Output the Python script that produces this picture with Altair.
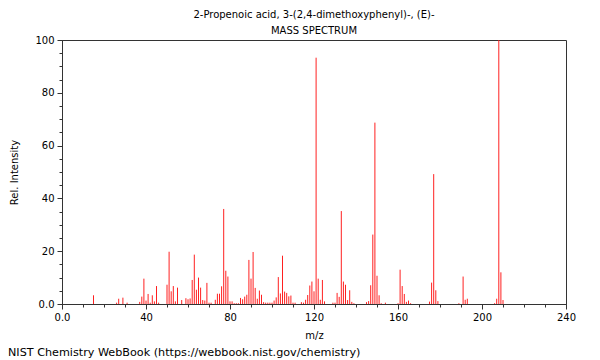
import altair as alt
import pandas as pd

mz = [15, 26, 27, 29, 31, 37, 38, 39, 40, 41, 42, 43, 44, 45, 46, 50, 51, 52, 53, 54, 55, 57,
      59, 60, 61, 62, 63, 64, 65, 66, 67, 68, 69, 70, 71, 73, 74, 75, 76, 77, 78, 79, 80, 81,
      82, 83, 84, 85, 86, 87, 88, 89, 90, 91, 92, 93, 94, 95, 96, 97, 98, 99, 100, 101, 102,
      103, 104, 105, 106, 107, 108, 109, 110, 111, 114, 115, 116, 117, 118, 119, 120, 121, 122,
      123, 124, 125, 129, 130, 131, 132, 133, 134, 135, 136, 137, 138, 139, 145, 146, 147, 148,
      149, 150, 151, 152, 154, 160, 161, 162, 163, 164, 165, 166, 175, 176, 177, 178, 179, 189,
      191, 192, 193, 206, 207, 208, 209, 210]
intensity = [3.3, 0.5, 2.0, 2.4, 0.5, 0.8, 2.8, 9.6, 1.3, 3.8, 0.5, 3.3, 1.0, 6.8, 0.5, 7.3, 19.8,
             4.8, 6.8, 1.0, 6.2, 1.5, 2.2, 1.8, 2.1, 9.1, 18.7, 5.4, 10.0, 6.2, 1.5, 1.3, 8.0, 0.5,
             0.5, 1.6, 3.9, 3.9, 6.7, 36.0, 12.6, 10.4, 1.0, 1.0, 0.3, 0.3, 0.3, 2.3, 1.8, 2.8,
             3.5, 16.7, 9.6, 19.7, 6.1, 2.0, 5.1, 3.5, 0.7, 0.5, 0.5, 0.5, 0.5, 1.3, 2.5, 10.2,
             4.0, 18.3, 4.7, 4.2, 2.9, 3.2, 0.5, 0.5, 0.7, 0.5, 1.6, 3.4, 7.0, 8.5, 4.8, 93.3,
             9.6, 1.6, 9.1, 1.0, 0.5, 0.5, 4.2, 2.7, 35.2, 8.5, 7.3, 1.5, 5.2, 0.8, 0.3, 0.7,
             1.1, 7.1, 26.3, 68.7, 10.7, 3.3, 0.3, 0.5, 0.3, 13.0, 6.8, 3.8, 0.8, 1.3, 0.3, 0.9,
             8.1, 49.2, 5.2, 1.1, 0.3, 10.4, 1.6, 2.0, 0.3, 2.0, 100.0, 12.0, 1.5]

x_major = [0, 40, 80, 120, 160, 200, 240]
x_minor = list(range(0, 241, 10))
y_major = [0, 20, 40, 60, 80, 100]
y_minor = list(range(0, 101, 5))

title_lines = ["2-Propenoic acid, 3-(2,4-dimethoxyphenyl)-, (E)-", "MASS SPECTRUM"]
footer = "NIST Chemistry WebBook (https://webbook.nist.gov/chemistry)"

df = pd.DataFrame({"mz": mz, "intensity": intensity, "zero": [0] * len(mz)})

FONT = "DejaVu Sans"
xscale = alt.Scale(domain=[0, 240], nice=False, zero=False)
yscale = alt.Scale(domain=[0, 100], nice=False)

bars = alt.Chart(df).mark_rule(color="#ff2020", strokeWidth=1).encode(
    x=alt.X("mz:Q", scale=xscale,
            axis=alt.Axis(values=x_major, title="m/z", orient="bottom", grid=False,
                          tickSize=5, labelFlush=False, labelPadding=3, titlePadding=8,
                          labelExpr="datum.value == 0 ? '0.0' : datum.label")),
    y=alt.Y("intensity:Q", scale=yscale,
            axis=alt.Axis(values=y_major, title="Rel. Intensity", orient="left", grid=False,
                          tickSize=5, labelFlush=False, labelPadding=3, titlePadding=15,
                          labelExpr="datum.value == 0 ? '0.0' : datum.label")),
    y2="zero:Q",
)

minor = alt.Chart(df).mark_point(opacity=0).encode(
    x=alt.X("mz:Q", scale=xscale,
            axis=alt.Axis(values=x_minor, labels=False, title=None, orient="bottom",
                          grid=False, tickSize=3, domain=False)),
    y=alt.Y("intensity:Q", scale=yscale,
            axis=alt.Axis(values=y_minor, labels=False, title=None, orient="left",
                          grid=False, tickSize=3, domain=False)),
)

foot = alt.Chart(pd.DataFrame({"t": [footer]})).mark_text(
    align="left", baseline="middle", font=FONT, fontSize=11.2, color="#000000"
).encode(x=alt.value(-54), y=alt.value(313), text="t:N")

chart = alt.layer(bars, minor, foot).resolve_axis(x="independent", y="independent").properties(
    width=504, height=264,
    title=alt.TitleParams(text=title_lines, anchor="middle", font=FONT, fontSize=10,
                          fontWeight="normal", offset=-1, lineHeight=16, color="#000000"),
    autosize=alt.AutoSizeParams(type="none"),
    padding={"left": 54, "top": 32, "right": 26, "bottom": 56},
).configure_view(stroke="#333333", strokeWidth=1).configure_axis(
    labelFont=FONT, titleFont=FONT, labelFontSize=10, titleFontSize=10,
    titleFontWeight="normal", labelColor="#000000", titleColor="#000000",
    domainColor="#333333", tickColor="#333333",
)

chart.save("out.html", embed_options={"renderer": "svg", "actions": False})
